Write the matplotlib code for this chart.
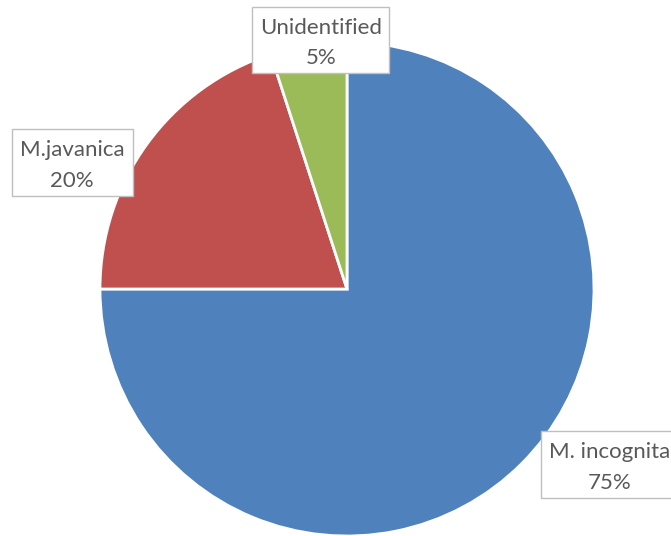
import matplotlib
matplotlib.use("Agg")
import matplotlib.pyplot as plt
from matplotlib.patches import Rectangle

# Species share of root-knot nematode isolates
species = ["M. incognita", "M.javanica", "Unidentified"]
shares = [75, 20, 5]
colors = ["#4F81BD", "#C0504D", "#9BBB59"]

W, H = 671, 536
fig = plt.figure(figsize=(W / 100, H / 100), dpi=100)
ax = fig.add_axes([0, 0, 1, 1])

ax.pie(shares, colors=colors, startangle=90, counterclock=False,
       center=(347, H - 289), radius=247, frame=True,
       wedgeprops=dict(edgecolor="white", linewidth=2.0))
ax.set_xlim(0, W)
ax.set_ylim(0, H)
ax.set_aspect("equal")
ax.axis("off")

# label boxes: (left, top, right, bottom) in pixels measured from the top
boxes = {
    "Unidentified": (252, 7, 389, 73),
    "M.javanica": (12, 129, 133, 196),
    "M. incognita": (541, 431, 690, 498),
}
text_centers = {
    "Unidentified": 321,
    "M.javanica": 72,
    "M. incognita": 610,
}

for name, val in zip(species, shares):
    x0, y0, x1, y1 = boxes[name]
    ax.add_patch(Rectangle((x0, H - y1), x1 - x0, y1 - y0,
                           facecolor="white", edgecolor="#BFBFBF",
                           linewidth=1.0, zorder=5, clip_on=False))
    ax.text(text_centers[name], H - (y0 + y1) / 2 - 3, f"{name}\n{val}%",
            ha="center", va="center", fontsize=16, color="#595959",
            family="Lato", linespacing=1.65, zorder=6)

fig.savefig("out.png", dpi=100)
